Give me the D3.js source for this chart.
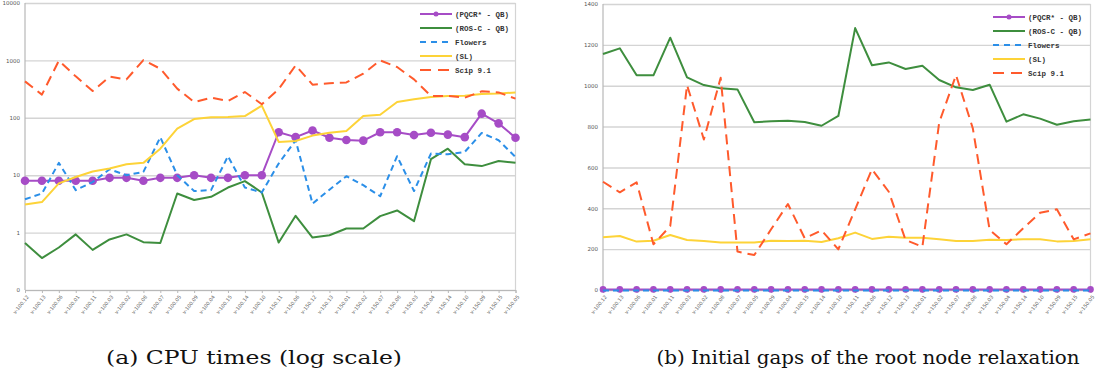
<!DOCTYPE html>
<html>
<head>
<meta charset="utf-8">
<script src="https://cdn.jsdelivr.net/npm/d3@7"></script>
<style>
  body { margin: 0; background: #fff; }
  svg { display: block; }
</style>
</head>
<body>
<div id="chart"></div>
<script>
const categories = ["v-100.12","v-100.13","v-100.06","v-100.01","v-100.11","v-100.03","v-100.02","v-100.08","v-100.07","v-100.05","v-100.09","v-100.04","v-100.15","v-100.14","v-100.10","v-150.11","v-150.06","v-150.12","v-150.13","v-150.01","v-150.02","v-150.07","v-150.08","v-150.03","v-150.04","v-150.14","v-150.10","v-150.09","v-150.15","v-150.05"];

const seriesNames = ["(PQCR* - QB)", "(ROS-C - QB)", "Flowers", "(SL)", "Scip 9.1"];

// (a) CPU times, log scale
const cpuPQCR = [8,8,8,8,8,9,9,8,9,9,10,9,9,10,10,56,46,60,45,41,40,56,56,50,55,51,46,118,80,45];
const cpuROSC = [0.66,0.36,0.55,0.93,0.5,0.76,0.93,0.68,0.66,4.8,3.7,4.2,6.1,7.9,5.0,0.67,1.96,0.82,0.9,1.18,1.18,1.94,2.43,1.58,19,29,15.5,14.4,17.7,16.4];
const cpuFlowers = [3.8,4.8,16.4,5.5,7.6,12.7,10,11.4,46,10,5.3,5.5,21.4,6.1,5.0,16,40.6,3.2,5.6,9.6,6.7,4.3,21.4,5.3,23.8,23.2,25.4,54.5,40.6,20.8];
const cpuSL = [3.1,3.4,7.2,9.3,11.6,13.1,15.5,16.4,29,65,95,102,103,107,163,38,39.5,49,55,59,107,113,188,210,230,240,242,259,264,277];
const cpuScip = [431,253,988,527,293,520,467,1011,716,322,188,224,196,281,172,316,818,378,398,414,587,1000,766,467,240,240,224,289,277,216];
const cpuTicks = [0.1, 1, 10, 100, 1000, 10000];
const cpuTickLabels = ["0", "1", "10", "100", "1000", "10000"];

// (b) initial gaps of the root node relaxation
const gapPQCR = [3,3,3,3,3,3,3,3,3,3,3,3,3,3,3,3,3,3,3,3,3,3,3,3,3,3,3,3,3,3];
const gapROSC = [1155,1183,1051,1051,1235,1041,1003,987,982,821,826,829,822,804,852,1282,1100,1114,1082,1098,1028,992,979,1005,824,860,839,809,826,835];
const gapFlowers = [-2,-2,-2,-2,-2,-2,-2,-2,-2,-2,-2,-2,-2,-2,-2,-2,-2,-2,-2,-2,-2,-2,-2,-2,-2,-2,-2,-2,-2,-2];
const gapSL = [258,264,237,241,269,245,240,233,233,232,241,240,241,235,253,281,250,261,256,256,248,240,240,246,245,248,248,238,240,248];
const gapScip = [530,478,527,224,313,1003,737,1039,188,171,297,421,253,292,199,395,591,481,245,212,820,1052,791,294,224,302,378,395,248,277];
const gapTicks = [0, 200, 400, 600, 800, 1000, 1200, 1400];

const styles = [
  { color: "#a64cc6", dash: null, marker: true },
  { color: "#3e8e3e", dash: null, marker: false },
  { color: "#2b8fe8", dash: "6,4", marker: false },
  { color: "#fdd338", dash: null, marker: false },
  { color: "#ff5a2c", dash: "10,6", marker: false },
];

const svg = d3.select("#chart").append("svg")
  .attr("width", 1095)
  .attr("height", 379);

function drawPanel(opt) {
  const g = svg.append("g").attr("transform", `translate(${opt.left}, ${opt.top})`);
  const w = opt.width, h = opt.height;

  const x = d3.scalePoint().domain(categories).range([0, w]);
  const y = opt.log
    ? d3.scaleLog().domain([0.1, 10000]).range([h, 0])
    : d3.scaleLinear().domain([0, 1400]).range([h, 0]);

  // gridlines + y labels
  const yAxis = g.append("g")
    .call(d3.axisLeft(y).tickValues(opt.ticks).tickSize(-w).tickPadding(5)
      .tickFormat((d, i) => opt.tickLabels ? opt.tickLabels[i] : d));
  yAxis.select(".domain").remove();
  yAxis.selectAll(".tick line").attr("stroke", "#d4d4d4").attr("stroke-width", 1.4);
  yAxis.selectAll(".tick text")
    .attr("fill", "#555")
    .style("font-family", "'DejaVu Sans', sans-serif")
    .style("font-size", "5.5px");

  // box sides
  g.append("line").attr("x1", 0).attr("x2", 0).attr("y1", 0).attr("y2", h)
    .attr("stroke", "#b8b8b8").attr("stroke-width", 1.2);
  g.append("line").attr("x1", w).attr("x2", w).attr("y1", 0).attr("y2", h)
    .attr("stroke", "#d4d4d4").attr("stroke-width", 1.2);

  // x axis ticks and rotated labels
  const xAxis = g.append("g")
    .attr("transform", `translate(0, ${h})`)
    .call(d3.axisBottom(x).tickSize(3).tickPadding(2));
  xAxis.select(".domain").attr("stroke", "#b8b8b8");
  xAxis.selectAll(".tick line").attr("stroke", "#b8b8b8");
  xAxis.selectAll(".tick text")
    .attr("fill", "#666")
    .style("font-family", "'DejaVu Sans', sans-serif")
    .style("font-size", "5px")
    .attr("text-anchor", "end")
    .attr("dy", "0.3em")
    .attr("transform", "translate(-1.5, 3) rotate(-52)");

  const line = d3.line()
    .x((d, i) => x(categories[i]))
    .y(d => y(d));

  opt.series.forEach((vals, k) => {
    const s = styles[k];
    g.append("path")
      .datum(vals)
      .attr("fill", "none")
      .attr("stroke", s.color)
      .attr("stroke-width", 2)
      .attr("stroke-dasharray", s.dash)
      .attr("stroke-linejoin", "round")
      .attr("d", line);
    if (s.marker) {
      g.selectAll(null)
        .data(vals)
        .join("circle")
        .attr("cx", (d, i) => x(categories[i]))
        .attr("cy", d => y(d))
        .attr("r", opt.markerR)
        .attr("fill", s.color);
    }
  });

  // legend
  const lg = svg.append("g").attr("transform", `translate(${opt.legendX}, ${opt.legendY})`);
  seriesNames.forEach((name, k) => {
    const s = styles[k];
    const row = lg.append("g").attr("transform", `translate(0, ${k * opt.legendStep})`);
    row.append("line")
      .attr("x1", 0).attr("x2", 32).attr("y1", 0).attr("y2", 0)
      .attr("stroke", s.color)
      .attr("stroke-width", 2)
      .attr("stroke-dasharray", s.dash === "6,4" ? "6,5" : s.dash === "10,6" ? "11,7" : null);
    if (s.marker) {
      row.append("circle").attr("cx", 16).attr("cy", 0).attr("r", 2.5).attr("fill", s.color);
    }
    row.append("text")
      .attr("x", 35)
      .attr("y", 0)
      .attr("dy", "0.35em")
      .attr("fill", "#333")
      .style("font-family", "'Liberation Mono', monospace")
      .style("font-weight", "bold")
      .style("font-size", "7.5px")
      .text(name);
  });

  svg.append("text")
    .attr("x", opt.captionX)
    .attr("y", 364)
    .attr("text-anchor", "middle")
    .attr("textLength", opt.captionW)
    .attr("lengthAdjust", "spacingAndGlyphs")
    .attr("font-family", "DejaVu Serif")
    .attr("font-size", 18)
    .attr("fill", "#111")
    .text(opt.caption);
}

drawPanel({
  left: 25, top: 3, width: 490.5, height: 287,
  log: true, ticks: cpuTicks, tickLabels: cpuTickLabels,
  series: [cpuPQCR, cpuROSC, cpuFlowers, cpuSL, cpuScip],
  markerR: 4.3,
  legendX: 420, legendY: 14, legendStep: 14,
  caption: "(a) CPU times (log scale)", captionX: 254, captionW: 296,
});

drawPanel({
  left: 603, top: 4, width: 487.5, height: 286,
  log: false, ticks: gapTicks, tickLabels: null,
  series: [gapPQCR, gapROSC, gapFlowers, gapSL, gapScip],
  markerR: 3.3,
  legendX: 993, legendY: 17, legendStep: 14,
  caption: "(b) Initial gaps of the root node relaxation", captionX: 868, captionW: 423,
});
</script>
</body>
</html>
